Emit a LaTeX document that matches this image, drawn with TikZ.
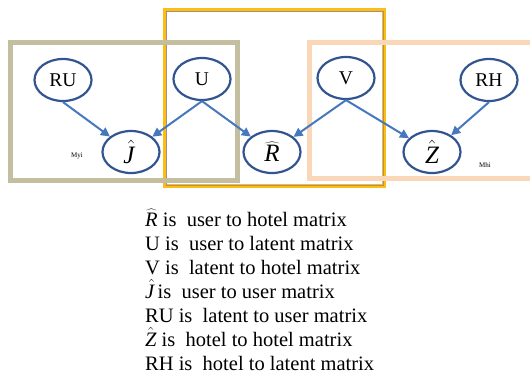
\documentclass[tikz,border=0pt]{standalone}
\usepackage{fix-cm}
\usepackage{fontspec}
\setmainfont{Liberation Serif}
\usetikzlibrary{arrows.meta,shapes.geometric}
\definecolor{ellc}{RGB}{50,85,145}
\definecolor{arrc}{RGB}{70,120,190}
\definecolor{greyb}{RGB}{196,190,160}
\definecolor{goldb}{RGB}{250,190,20}
\definecolor{goldin}{RGB}{170,140,130}
\definecolor{peachb}{RGB}{250,215,185}
\newcommand{\hR}{\ensuremath{\widehat{\mbox{\itshape R}}}}
\newcommand{\hJ}{\ensuremath{\hat{\mbox{\itshape J\,}}}}
\newcommand{\hZ}{\ensuremath{\hat{\mbox{\itshape Z}}}}
\begin{document}
\begin{tikzpicture}[x=1pt,y=-1pt,
  var/.style={ellipse, draw=ellc, line width=2.2pt, minimum width=57pt, minimum height=42pt, inner sep=0pt, font=\fontsize{19.5}{22}\selectfont},
  hatvar/.style={var, font=\fontsize{25}{28}\selectfont},
  link/.style={-{Triangle[length=9pt,width=9pt]}, draw=arrc, line width=2pt},
  platelabel/.style={font=\fontsize{7}{8}\selectfont, inner sep=0pt},
  legend/.style={anchor=west, inner sep=0pt, text height=12pt, text depth=2pt, font=\fontsize{20.5}{24}\selectfont}]
\clip (0,0) rectangle (530,373);
\fill[white] (0,0) rectangle (530,373);
% plates
\draw[goldb, line width=4.5pt] (165,10) rectangle (384,186);
\draw[goldin, line width=0.6pt] (166,11) rectangle (383,185);
\draw[greyb, line width=5pt] (10,42) rectangle (237,180);
\draw[peachb, line width=5pt] (309,42) rectangle (545,178);
% nodes
\node[var] (RU) at (63,80) {RU};
\node[var] (U) at (202,79) {U};
\node[hatvar] (J) at (131,152) {\hJ};
\node[hatvar] (R) at (272,152) {\hR};
\node[var] (V) at (346,78) {V};
\node[var] (RH) at (489,80) {RH};
\node[hatvar] (Z) at (432,152) {\hZ};
% edges
\draw[link] (RU.south) -- (J);
\draw[link] (U.south) -- (J);
\draw[link] (U.south) -- (R);
\draw[link] (V.south) -- (R);
\draw[link] (V.south) -- (Z);
\draw[link] (RH.south) -- (Z);
% plate labels
\node[platelabel] (myi) at (77,156) {Myi};
\node[platelabel] (mhi) at (485,165) {Mhi};
% legend
\node[legend] (l1) at (145,221) {\hR{} is~ user to hotel matrix};
\node[legend] (l2) at (145,245) {U is~ user to latent matrix};
\node[legend] (l3) at (145,269) {V is~ latent to hotel matrix};
\node[legend] (l4) at (145,293) {\hJ{}is~ user to user matrix};
\node[legend] (l5) at (145,317.5) {RU is~ latent to user matrix};
\node[legend] (l6) at (145,341.5) {\hZ{} is~ hotel to hotel matrix};
\node[legend] (l7) at (145,365.5) {RH is~ hotel to latent matrix};
\end{tikzpicture}
\end{document}
